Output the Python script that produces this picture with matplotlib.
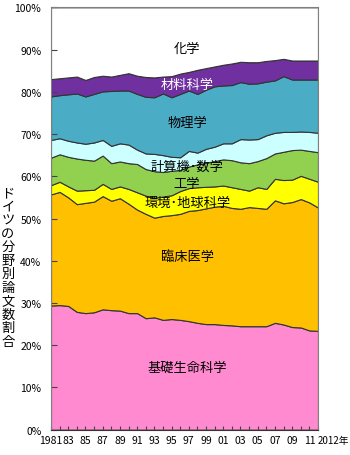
import numpy as np
import matplotlib.pyplot as plt

plt.rcParams['font.family'] = ['Noto Sans CJK JP', 'DejaVu Sans']

# 年次（1981〜2012年）
years = list(range(1981, 2013))

# 分野別論文数割合（%）
kiso_seimei = [29.4, 29.5, 29.3, 27.9, 27.6, 27.8, 28.5, 28.3, 28.2, 27.6, 27.6, 26.4,
               26.6, 26.0, 26.2, 26.0, 25.7, 25.3, 25.0, 25.0, 24.8, 24.7, 24.5, 24.5,
               24.5, 24.5, 25.3, 24.9, 24.3, 24.2, 23.5, 23.4]
rinsho = [26.3, 26.8, 25.7, 25.5, 26.1, 26.2, 26.8, 25.9, 26.6, 25.9, 24.5, 24.7,
          23.6, 24.6, 24.6, 25.1, 26.1, 26.7, 27.4, 27.8, 28.2, 27.8, 27.8, 28.2,
          28.0, 27.8, 29.0, 28.7, 29.6, 30.4, 30.3, 29.2]
kankyo = [2.2, 2.4, 2.6, 3.2, 3.0, 2.8, 2.9, 2.8, 2.8, 3.5, 4.1, 4.3,
          4.7, 4.6, 4.7, 5.4, 5.4, 5.4, 5.1, 4.8, 4.8, 4.9, 4.7, 3.9,
          4.9, 4.7, 5.1, 5.5, 5.3, 5.5, 5.6, 6.1]
kogaku = [6.5, 6.5, 7.0, 7.6, 7.2, 6.9, 6.7, 6.1, 5.9, 6.1, 6.7, 6.3,
          6.3, 5.8, 5.8, 5.0, 5.1, 5.4, 5.7, 6.0, 6.2, 6.4, 6.3, 6.5,
          6.2, 7.3, 6.0, 6.7, 7.0, 6.2, 6.6, 7.0]
keisanki = [4.2, 3.8, 3.8, 3.8, 3.8, 4.3, 3.7, 4.1, 4.3, 4.4, 3.4, 3.7,
            4.1, 4.0, 3.3, 3.0, 3.7, 2.8, 3.3, 3.4, 3.8, 4.0, 5.5, 5.6,
            5.2, 5.4, 4.9, 4.7, 4.3, 4.3, 4.5, 4.6]
butsuri = [10.3, 10.2, 11.0, 11.6, 11.2, 11.5, 11.5, 13.0, 12.5, 12.8, 13.2, 13.4,
           13.4, 14.6, 14.1, 15.0, 14.3, 13.9, 14.0, 14.3, 13.7, 13.8, 13.5, 13.2,
           13.2, 12.7, 12.4, 13.2, 12.4, 12.3, 12.4, 12.6]
zairyo = [4.1, 4.0, 4.0, 4.0, 3.9, 4.0, 3.7, 3.4, 3.7, 4.1, 4.3, 4.7,
          4.7, 4.0, 5.0, 4.8, 4.4, 5.7, 5.1, 4.7, 4.9, 5.1, 4.8, 5.1,
          5.0, 4.9, 4.8, 4.1, 4.5, 4.5, 4.5, 4.5]
kagaku = [17.0, 16.8, 16.6, 16.4, 17.2, 16.5, 16.2, 16.4, 16.0, 15.6, 16.2, 16.5,
          16.6, 16.4, 16.3, 15.7, 15.3, 14.8, 14.4, 14.0, 13.6, 13.3, 12.9, 13.0,
          13.0, 12.7, 12.5, 12.2, 12.6, 12.6, 12.6, 12.6]

colors = ['#FF8ACF', '#FFC000', '#FFFF00', '#92D050', '#CCFFFF', '#4BACC6', '#7030A0', '#FFFFFF']

fig = plt.figure(figsize=(3.5, 4.56), dpi=100)
ax = fig.add_axes([51 / 350, 25.3 / 456, 267 / 350, 422.4 / 456])

ax.stackplot(years, kiso_seimei, rinsho, kankyo, kogaku, keisanki, butsuri, zairyo, kagaku,
             colors=colors, edgecolor='#333333', linewidth=0.8)

# 分野名ラベル
lx = 1996.8
labels = [
    ('基礎生命科学', 14.8, 'black'),
    ('臨床医学', 41.1, 'black'),
    ('環境･地球科学', 53.9, 'black'),
    ('工学', 58.2, 'black'),
    ('計算機･数学', 62.4, 'black'),
    ('物理学', 72.8, 'black'),
    ('材料科学', 81.8, 'white'),
    ('化学', 90.3, 'black'),
]
for name, y, c in labels:
    ax.text(lx, y, name, ha='center', va='center', fontsize=9.5, color=c)

ax.set_xlim(1981, 2012)
ax.set_ylim(0, 100)

ax.set_yticks(np.arange(0, 101, 10))
ax.set_yticklabels([f'{v}%' for v in range(0, 101, 10)])

ax.set_xticks(years)
xlabels = []
for y in years:
    if y == 1981:
        xlabels.append('1981')
    elif y == 2012:
        xlabels.append('2012年')
    elif y % 2 == 1:
        xlabels.append(f'{y % 100:02d}')
    else:
        xlabels.append('')
ax.set_xticklabels(xlabels)

ax.tick_params(axis='both', direction='in', labelsize=7.5, color='#444444')
ax.tick_params(axis='x', length=3, pad=4)
ax.tick_params(axis='y', length=4, pad=7)

last = ax.get_xticklabels()[-1]
last.set_ha('left')
last.set_fontsize(7)

for side in ['top', 'right', 'left']:
    ax.spines[side].set_color('#808080')
ax.spines['bottom'].set_color('#333333')

# 縦書きの軸ラベル
ylab = 'ドイツの分野別論文数割合'
fig.text(8 / 350, 1 - 268 / 456, '\n'.join(ylab), ha='center', va='center',
         fontsize=9.5, linespacing=1.05)

fig.savefig('out.png', dpi=100, facecolor='white')
